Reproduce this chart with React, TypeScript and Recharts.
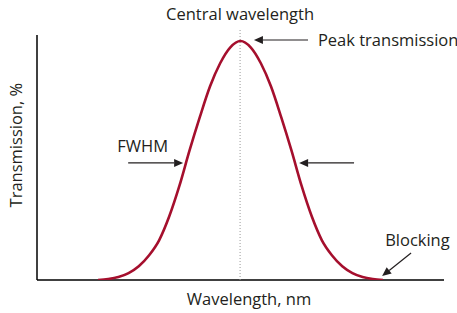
import React from 'react';
import { LineChart, Line, XAxis, YAxis, ReferenceLine } from 'recharts';

// wavelength (arbitrary 0-100 scale) vs transmission, %
const wavelength = [15, 17.5, 20, 22.5, 25, 27.5, 30, 32.5, 35, 37.5, 40, 42.5, 45, 47.5, 50, 52.5, 55, 57.5, 60, 62.5, 65, 67.5, 70, 72.5, 75, 77.5, 80, 82.5, 85];
const transmission = [0, 0.4, 1.2, 2.8, 5.6, 10, 16.2, 26, 38.5, 53, 66.5, 79, 88.5, 95, 97.6, 95, 88.5, 79, 66.5, 53, 38.5, 26, 16.2, 10, 5.6, 2.8, 1.2, 0.4, 0];

const centralWl = 49.9;
const halfMax = 47.8;

const data = wavelength.map((wl, i) => ({ wl, t: transmission[i] }));

const FONT = '"Open Sans", sans-serif';
const INK = '#231f20';
const CURVE = '#a50f2d';

const Arrow = (props: any) => {
  const { x1, y1, x2, y2 } = props;
  const ang = Math.atan2(y2 - y1, x2 - x1);
  const len = 9;
  const half = 4;
  const bx = x2 - len * Math.cos(ang);
  const by = y2 - len * Math.sin(ang);
  const px = -Math.sin(ang) * half;
  const py = Math.cos(ang) * half;
  return (
    <g>
      <line x1={x1} y1={y1} x2={bx} y2={by} stroke={INK} strokeWidth={1.2} />
      <polygon points={`${x2},${y2} ${bx + px},${by + py} ${bx - px},${by - py}`} fill={INK} />
    </g>
  );
};

// label drawn relative to the reference element's box
const note = (text: string, dx: number, dy: number, anchor = 'start', rotate = false) => (p: any) => {
  const { x, y } = p.viewBox;
  const tx = x + dx;
  const ty = y + dy;
  return (
    <text
      x={tx}
      y={ty}
      textAnchor={anchor}
      fontFamily={FONT}
      fontSize={16.5}
      fill={INK}
      transform={rotate ? `rotate(-90 ${tx} ${ty})` : undefined}
    >
      {text}
    </text>
  );
};

export default function App() {
  return (
    <div style={{ position: 'absolute', left: 0, top: 0, background: '#fff' }}>
      <LineChart width={457} height={313} data={data} margin={{ top: 28, right: 13, bottom: 33, left: 37 }}>
        <XAxis dataKey="wl" type="number" domain={[0, 100]} allowDataOverflow hide />
        <YAxis hide type="number" domain={[0, 102.9]} allowDataOverflow />
        {/* axes */}
        <ReferenceLine
          segment={[{ x: 0, y: 0 }, { x: 100, y: 0 }]}
          stroke="#000"
          strokeWidth={1.5}
          label={{ content: note('Wavelength, nm', 212, 25, 'middle') }}
        />
        <ReferenceLine
          segment={[{ x: 0, y: 0 }, { x: 0, y: 100 }]}
          stroke="#000"
          strokeWidth={1.5}
          label={{ content: note('Transmission, %', -15, 110, 'middle', true) }}
        />
        <ReferenceLine
          x={centralWl}
          stroke="#999"
          strokeWidth={1}
          strokeDasharray="1 2"
          label={{ content: note('Central wavelength', 0, -8, 'middle') }}
        />
        <Line type="monotone" dataKey="t" stroke={CURVE} strokeWidth={2.6} dot={false} isAnimationActive={false} />
        <ReferenceLine
          segment={[{ x: 66.6, y: 98 }, { x: 53.3, y: 98 }]}
          shape={Arrow}
          label={{ content: note('Peak transmission', 64, 6) }}
        />
        <ReferenceLine
          segment={[{ x: 22.4, y: halfMax }, { x: 35.9, y: halfMax }]}
          shape={Arrow}
          label={{ content: note('FWHM', 14.5, -11, 'middle') }}
        />
        <ReferenceLine segment={[{ x: 77.9, y: halfMax }, { x: 64.4, y: halfMax }]} shape={Arrow} />
        <ReferenceLine
          segment={[{ x: 91.9, y: 11 }, { x: 84.8, y: 1.6 }]}
          shape={Arrow}
          label={{ content: note('Blocking', 3, -7) }}
        />
      </LineChart>
    </div>
  );
}
